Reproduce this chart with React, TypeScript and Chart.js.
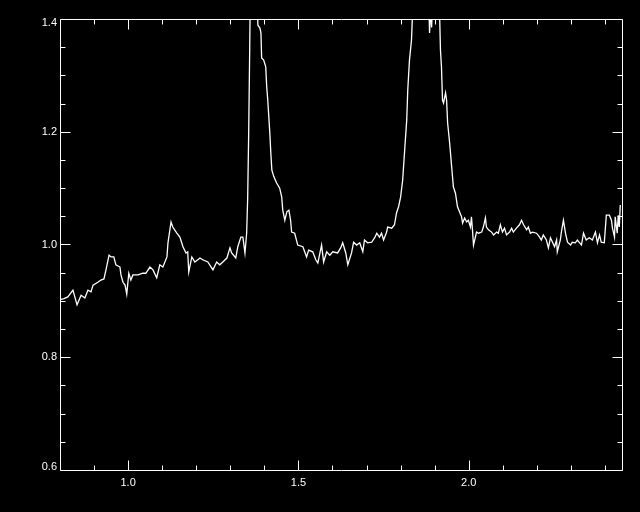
import React, { useEffect, useRef } from "react";
import { Chart, registerables } from "chart.js";

Chart.register(...registerables);

// Wavelength (x) and normalised flux (y)
const wavelength = [
  0.800, 0.812, 0.823, 0.838, 0.850, 0.862, 0.873, 0.882, 0.891, 0.897,
  0.911, 0.920, 0.929, 0.935, 0.944, 0.950, 0.958, 0.964, 0.976, 0.979,
  0.985, 0.991, 0.996, 1.002, 1.008, 1.014, 1.029, 1.043, 1.052, 1.064,
  1.073, 1.084, 1.093, 1.102, 1.114, 1.117, 1.126, 1.131, 1.143, 1.152,
  1.161, 1.170, 1.175, 1.178, 1.187, 1.196, 1.211, 1.219, 1.234, 1.249,
  1.260, 1.269, 1.278, 1.290, 1.299, 1.304, 1.316, 1.322, 1.331, 1.337,
  1.343, 1.348, 1.351, 1.354, 1.357, 1.360, 1.366, 1.372, 1.378, 1.381,
  1.387, 1.390, 1.392, 1.398, 1.404, 1.407, 1.410, 1.416, 1.419, 1.422,
  1.428, 1.436, 1.445, 1.451, 1.454, 1.460, 1.466, 1.472, 1.477, 1.480,
  1.489, 1.498, 1.513, 1.524, 1.530, 1.542, 1.551, 1.557, 1.568, 1.574,
  1.583, 1.592, 1.601, 1.615, 1.624, 1.630, 1.639, 1.645, 1.656, 1.662,
  1.671, 1.680, 1.689, 1.694, 1.703, 1.715, 1.724, 1.730, 1.738, 1.744,
  1.750, 1.759, 1.762, 1.774, 1.782, 1.788, 1.794, 1.800, 1.806, 1.812,
  1.818, 1.821, 1.826, 1.832, 1.835, 1.845, 1.860, 1.875, 1.882, 1.885,
  1.888, 1.891, 1.894, 1.900, 1.908, 1.914, 1.917, 1.920, 1.923, 1.926,
  1.932, 1.935, 1.938, 1.944, 1.950, 1.955, 1.961, 1.964, 1.967, 1.973,
  1.979, 1.982, 1.988, 1.994, 1.999, 2.005, 2.008, 2.011, 2.014, 2.023,
  2.029, 2.038, 2.043, 2.049, 2.052, 2.058, 2.067, 2.073, 2.082, 2.087,
  2.093, 2.099, 2.105, 2.111, 2.120, 2.126, 2.131, 2.140, 2.149, 2.155,
  2.161, 2.170, 2.175, 2.181, 2.187, 2.199, 2.208, 2.213, 2.219, 2.228,
  2.234, 2.240, 2.246, 2.252, 2.258, 2.260, 2.269, 2.272, 2.278, 2.284,
  2.290, 2.299, 2.304, 2.313, 2.319, 2.331, 2.337, 2.345, 2.354, 2.363,
  2.372, 2.378, 2.384, 2.389, 2.398, 2.404, 2.413, 2.419, 2.422, 2.428,
  2.430, 2.436, 2.439, 2.442, 2.445,
];

const flux = [
  0.902, 0.904, 0.907, 0.919, 0.893, 0.910, 0.905, 0.919, 0.916, 0.928,
  0.933, 0.937, 0.939, 0.955, 0.981, 0.978, 0.978, 0.964, 0.960, 0.946,
  0.933, 0.928, 0.912, 0.949, 0.937, 0.946, 0.946, 0.949, 0.949, 0.960,
  0.955, 0.941, 0.964, 0.960, 0.978, 1.003, 1.040, 1.031, 1.020, 1.013,
  0.996, 0.985, 0.987, 0.951, 0.978, 0.969, 0.976, 0.973, 0.969, 0.955,
  0.969, 0.964, 0.969, 0.976, 0.994, 0.985, 0.976, 0.996, 1.013, 1.013,
  0.985, 1.020, 1.082, 1.198, 1.349, 1.520, 1.680, 1.750, 1.450, 1.389,
  1.384, 1.375, 1.331, 1.327, 1.315, 1.279, 1.256, 1.198, 1.162, 1.132,
  1.120, 1.109, 1.100, 1.084, 1.061, 1.043, 1.058, 1.061, 1.043, 1.022,
  1.020, 0.999, 0.996, 0.978, 0.990, 0.987, 0.973, 0.967, 0.999, 0.969,
  0.987, 0.981, 0.987, 0.985, 0.994, 1.003, 0.985, 0.964, 0.985, 1.004,
  0.999, 1.003, 0.987, 1.008, 1.003, 1.004, 1.012, 1.020, 1.013, 1.020,
  1.008, 1.022, 1.031, 1.029, 1.035, 1.056, 1.067, 1.084, 1.114, 1.168,
  1.221, 1.274, 1.327, 1.363, 1.410, 1.550, 1.620, 1.580, 1.450, 1.375,
  1.420, 1.385, 1.430, 1.500, 1.520, 1.420, 1.345, 1.315, 1.256, 1.251,
  1.269, 1.256, 1.216, 1.180, 1.137, 1.102, 1.091, 1.079, 1.067, 1.058,
  1.049, 1.038, 1.047, 1.040, 1.043, 1.031, 1.049, 1.026, 0.999, 1.022,
  1.020, 1.022, 1.031, 1.047, 1.031, 1.026, 1.022, 1.017, 1.022, 1.020,
  1.035, 1.022, 1.029, 1.017, 1.022, 1.029, 1.022, 1.029, 1.035, 1.043,
  1.035, 1.026, 1.031, 1.020, 1.022, 1.020, 1.013, 1.008, 1.017, 1.008,
  0.994, 1.012, 1.004, 0.996, 1.008, 0.987, 1.008, 1.022, 1.043, 1.020,
  1.004, 0.999, 1.004, 1.003, 1.008, 0.999, 1.020, 1.008, 1.012, 1.008,
  1.022, 1.003, 1.017, 1.004, 1.003, 1.052, 1.052, 1.043, 1.029, 1.013,
  1.049, 1.020, 1.052, 1.031, 1.070,
];

const xMin = 0.8;
const xMax = 2.45;
const yMin = 0.6;
const yMax = 1.4;

const xMajorTicks = [1.0, 1.5, 2.0];
const xTickLabels = ["1.0", "1.5", "2.0"];
const xMinorTicks = [0.9, 1.1, 1.2, 1.3, 1.4, 1.6, 1.7, 1.8, 1.9, 2.1, 2.2, 2.3, 2.4];
const yMajorTicks = [0.6, 0.8, 1.0, 1.2, 1.4];
const yTickLabels = ["0.6", "0.8", "1.0", "1.2", "1.4"];
const yMinorTicks = [0.65, 0.7, 0.75, 0.85, 0.9, 0.95, 1.05, 1.1, 1.15, 1.25, 1.3, 1.35];

const FG = "#ffffff";
const BG = "#000000";

const framePlugin = {
  id: "idlFrame",
  beforeDraw(chart: any) {
    const ctx = chart.ctx;
    ctx.save();
    ctx.fillStyle = BG;
    ctx.fillRect(0, 0, chart.width, chart.height);
    ctx.restore();
  },
  afterDraw(chart: any) {
    const ctx = chart.ctx;
    const { left, right, top, bottom } = chart.chartArea;
    const xs = chart.scales.x;
    const ys = chart.scales.y;
    const L = Math.round(left) + 0.5;
    const R = Math.round(right) + 0.5;
    const T = Math.round(top) + 0.5;
    const B = Math.round(bottom) + 0.5;
    ctx.save();
    ctx.strokeStyle = FG;
    ctx.lineWidth = 1;
    ctx.beginPath();
    ctx.rect(L, T, R - L, B - T);
    ctx.stroke();

    const major = 10;
    const minor = 5;
    ctx.beginPath();
    const xt = (v: number, len: number) => {
      const px = Math.round(xs.getPixelForValue(v)) + 0.5;
      ctx.moveTo(px, B);
      ctx.lineTo(px, B - len);
      ctx.moveTo(px, T);
      ctx.lineTo(px, T + len);
    };
    const yt = (v: number, len: number) => {
      const py = Math.round(ys.getPixelForValue(v)) + 0.5;
      ctx.moveTo(L, py);
      ctx.lineTo(L + len, py);
      ctx.moveTo(R, py);
      ctx.lineTo(R - len, py);
    };
    xMajorTicks.forEach((v) => xt(v, major));
    xMinorTicks.forEach((v) => xt(v, minor));
    yMajorTicks.forEach((v) => yt(v, major));
    yMinorTicks.forEach((v) => yt(v, minor));
    ctx.stroke();

    ctx.fillStyle = FG;
    ctx.font = "11px 'Liberation Sans', Arial, sans-serif";
    ctx.textAlign = "center";
    ctx.textBaseline = "middle";
    xMajorTicks.forEach((v, i) => {
      ctx.fillText(xTickLabels[i], xs.getPixelForValue(v), bottom + 13);
    });
    ctx.textAlign = "right";
    yMajorTicks.forEach((v, i) => {
      let py = ys.getPixelForValue(v);
      py = Math.min(Math.max(py, top + 4), bottom - 3);
      ctx.fillText(yTickLabels[i], left - 3, py);
    });
    ctx.restore();
  },
};

export default function App() {
  const canvasRef = useRef<HTMLCanvasElement | null>(null);

  useEffect(() => {
    document.body.style.margin = "0";
    document.body.style.background = BG;
    const canvas = canvasRef.current;
    if (!canvas) return;
    const points = wavelength.map((x, i) => ({ x, y: flux[i] }));
    const chart = new Chart(canvas, {
      type: "line",
      data: {
        datasets: [
          {
            data: points,
            borderColor: FG,
            borderWidth: 1.3,
            pointRadius: 0,
            tension: 0,
            fill: false,
          },
        ],
      },
      options: {
        animation: false,
        responsive: false,
        devicePixelRatio: 1,
        layout: { padding: { left: 60, top: 19, right: 18, bottom: 42 } },
        plugins: {
          legend: { display: false },
          tooltip: { enabled: false },
          title: { display: false },
        },
        scales: {
          x: { type: "linear", min: xMin, max: xMax, display: false },
          y: { type: "linear", min: yMin, max: yMax, display: false },
        },
      },
      plugins: [framePlugin],
    });
    return () => chart.destroy();
  }, []);

  return (
    <div style={{ position: "absolute", left: 0, top: 0, width: 640, height: 512, background: BG }}>
      <canvas ref={canvasRef} width={640} height={512} style={{ display: "block" }} />
    </div>
  );
}
